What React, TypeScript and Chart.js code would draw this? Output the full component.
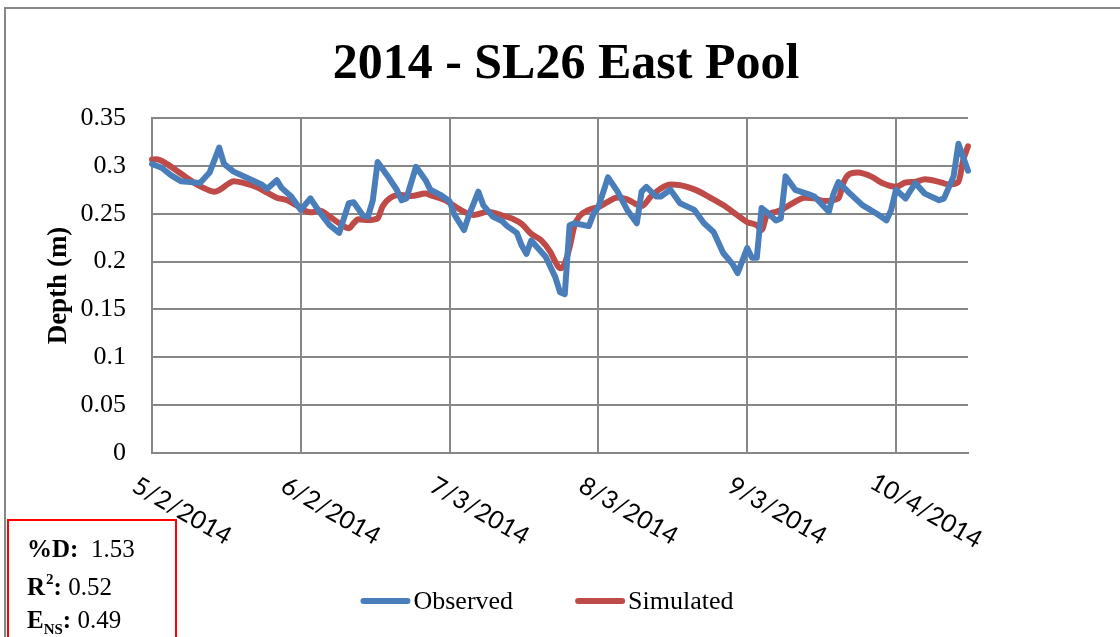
import { useEffect, useRef } from "react";
import { Chart, registerables } from "chart.js";

Chart.register(...registerables);

// ---------- data ----------
const START_DATE = [2014, 4, 2]; // 5/2/2014 (month is 0-based)
const TITLE = "2014 - SL26 East Pool";
const Y_TITLE = "Depth (m)";
const SERIES_NAMES = ["Observed", "Simulated"];
const SERIES_COLORS = ["#4A7EBB", "#BE4B48"];

// days after 5/2/2014
const OBS_DAYS = [
  0, 2, 4, 6, 8, 10, 12, 14, 15, 17, 20, 23, 24, 26, 27, 29, 31, 33, 35, 37, 39,
  41, 42, 44, 45, 46, 47, 49, 51, 52, 53, 55, 57, 58, 60, 62, 63, 65, 66, 68, 69,
  71, 73, 74, 76, 77, 78, 79, 82, 84, 85, 86, 87, 88, 91, 92, 93, 95, 97, 99, 101,
  102, 103, 105, 106, 108, 110, 113, 115, 117, 119, 121, 122, 124, 125, 126, 127,
  128, 130, 131, 132, 134, 137, 138, 141, 142, 143, 145, 148, 151, 153, 154, 155,
  157, 159, 161, 164, 165, 167, 168, 170,
];
const OBS_VALUES = [
  0.302, 0.298, 0.29, 0.284, 0.283, 0.282, 0.293, 0.319, 0.302, 0.294, 0.287,
  0.28, 0.276, 0.285, 0.277, 0.268, 0.254, 0.266, 0.251, 0.238, 0.23, 0.261,
  0.262, 0.248, 0.247, 0.264, 0.304, 0.29, 0.275, 0.264, 0.266, 0.299, 0.285,
  0.275, 0.27, 0.263, 0.249, 0.233, 0.248, 0.273, 0.259, 0.247, 0.242, 0.237,
  0.23, 0.217, 0.208, 0.222, 0.205, 0.184, 0.168, 0.166, 0.238, 0.24, 0.237,
  0.25, 0.257, 0.288, 0.273, 0.254, 0.24, 0.273, 0.278, 0.268, 0.268, 0.275,
  0.261, 0.254, 0.24, 0.231, 0.209, 0.197, 0.188, 0.214, 0.204, 0.204, 0.256,
  0.252, 0.243, 0.245, 0.289, 0.275, 0.27, 0.268, 0.252, 0.271, 0.283, 0.273,
  0.259, 0.25, 0.243, 0.254, 0.275, 0.266, 0.282, 0.271, 0.264, 0.266, 0.289,
  0.323, 0.295,
];

const SIM_DAYS = [
  0, 1, 3, 5, 7, 9, 11, 13, 14, 16, 17, 19, 22, 24, 26, 28, 30, 33, 35, 37, 39,
  41, 42, 43, 45, 47, 48, 50, 52, 54, 57, 58, 61, 63, 65, 67, 70, 73, 75, 77, 79,
  81, 83, 84, 85, 86, 87, 88, 89, 91, 93, 95, 97, 99, 102, 104, 106, 108, 110,
  113, 116, 119, 122, 124, 126, 127, 128, 130, 131, 134, 136, 138, 140, 143, 144,
  145, 147, 150, 152, 155, 157, 159, 161, 164, 166, 168, 169, 170,
];
const SIM_VALUES = [
  0.3066, 0.307, 0.3024, 0.2955, 0.2885, 0.2816, 0.2764, 0.273, 0.2747, 0.2816,
  0.284, 0.2823, 0.2774, 0.272, 0.2667, 0.2643, 0.259, 0.2514, 0.253, 0.247,
  0.24, 0.2348, 0.24, 0.2441, 0.2434, 0.245, 0.2573, 0.2677, 0.2695, 0.2684,
  0.2712, 0.2695, 0.2643, 0.258, 0.252, 0.2486, 0.252, 0.248, 0.245, 0.2393,
  0.2289, 0.2226, 0.21, 0.2, 0.193, 0.198, 0.215, 0.237, 0.247, 0.254, 0.257,
  0.2625, 0.267, 0.265, 0.258, 0.2684, 0.2764, 0.2806, 0.2799, 0.2754, 0.2677,
  0.259, 0.2483, 0.2413, 0.2379, 0.233, 0.2469, 0.252, 0.2538, 0.2625, 0.2667,
  0.266, 0.2632, 0.266, 0.2816, 0.2903, 0.293, 0.2885, 0.2823, 0.2781, 0.2826,
  0.2833, 0.286, 0.2833, 0.2806, 0.2833, 0.306, 0.3205,
];

const Y_TICK_LABELS = ["0", "0.05", "0.1", "0.15", "0.2", "0.25", "0.3", "0.35"];
const X_TICK_DAYS = [0, 31, 62, 93, 124, 155];
const X_MAX_DAY = 170;

const STAT_VALUES = ["1.53", "0.52", "0.49"];

// ---------- helpers ----------
const GRID = "#878787";
const SERIF = "'Liberation Serif', 'Times New Roman', serif";

function dayLabel(d: number): string {
  const dt = new Date(START_DATE[0], START_DATE[1], START_DATE[2] + d);
  return `${dt.getMonth() + 1}/${dt.getDate()}/${dt.getFullYear()}`;
}

const decorPlugin = {
  id: "decor",
  beforeDraw(chart: any) {
    const { ctx, width, height } = chart;
    ctx.save();
    ctx.fillStyle = "#ffffff";
    ctx.fillRect(0, 0, width, height);
    ctx.strokeStyle = GRID;
    ctx.lineWidth = 2;
    ctx.beginPath();
    ctx.moveTo(5, height);
    ctx.lineTo(5, 8);
    ctx.lineTo(width, 8);
    ctx.stroke();
    ctx.restore();
  },
  afterDraw(chart: any) {
    const { ctx, chartArea } = chart;
    const xs = chart.scales.x;
    ctx.save();

    // title
    ctx.fillStyle = "#000";
    ctx.font = `bold 50px ${SERIF}`;
    ctx.textAlign = "center";
    ctx.textBaseline = "alphabetic";
    ctx.fillText(TITLE, 566, 78);

    // y title
    ctx.save();
    ctx.translate(66, (chartArea.top + chartArea.bottom) / 2);
    ctx.rotate(-Math.PI / 2);
    ctx.font = `bold 27px ${SERIF}`;
    ctx.textAlign = "center";
    ctx.textBaseline = "alphabetic";
    ctx.fillText(Y_TITLE, 0, 0);
    ctx.restore();

    // x tick labels (rotated clockwise)
    ctx.font = "25px Lato, 'Open Sans', sans-serif";
    ctx.textAlign = "center";
    ctx.textBaseline = "middle";
    for (const t of xs.ticks) {
      const px = xs.getPixelForValue(t.value);
      ctx.save();
      ctx.translate(px + 30, chartArea.bottom + 58);
      ctx.rotate(Math.PI / 6);
      ctx.fillText(dayLabel(t.value), 0, 0);
      ctx.restore();
    }

    // legend
    ctx.font = `26px ${SERIF}`;
    ctx.textAlign = "left";
    ctx.textBaseline = "middle";
    const lineLen = 50;
    const textGap = 3;
    const itemGap = 62;
    const widths = SERIES_NAMES.map((n) => lineLen + textGap + ctx.measureText(n).width);
    const total = widths.reduce((a, b) => a + b, 0) + itemGap * (widths.length - 1);
    let lx = 547 - total / 2;
    const ly = 601;
    SERIES_NAMES.forEach((name, i) => {
      ctx.strokeStyle = SERIES_COLORS[i];
      ctx.lineWidth = 6;
      ctx.lineCap = "round";
      ctx.beginPath();
      ctx.moveTo(lx + 3, ly);
      ctx.lineTo(lx + lineLen - 3, ly);
      ctx.stroke();
      ctx.fillStyle = "#000";
      ctx.fillText(name, lx + lineLen + textGap, ly + 1);
      lx += widths[i] + itemGap;
    });

    // stats box
    ctx.strokeStyle = "#FF0000";
    ctx.lineWidth = 2;
    ctx.strokeRect(8, 520, 168, 140);
    ctx.fillStyle = "#000";
    ctx.textBaseline = "alphabetic";
    const bold = `bold 25px ${SERIF}`;
    const norm = `25px ${SERIF}`;
    const small = `bold 15px ${SERIF}`;
    let x = 27;
    // %D
    ctx.font = bold;
    ctx.fillText("%D:", x, 557);
    x += ctx.measureText("%D:").width;
    ctx.font = norm;
    ctx.fillText("  " + STAT_VALUES[0], x, 557);
    // R^2
    x = 27;
    ctx.font = bold;
    ctx.fillText("R", x, 595);
    x += ctx.measureText("R").width;
    ctx.font = small;
    ctx.fillText("2", x + 1, 584);
    x += ctx.measureText("2").width + 1;
    ctx.font = bold;
    ctx.fillText(":", x, 595);
    x += ctx.measureText(":").width;
    ctx.font = norm;
    ctx.fillText(" " + STAT_VALUES[1], x, 595);
    // E_NS
    x = 27;
    ctx.font = bold;
    ctx.fillText("E", x, 628);
    x += ctx.measureText("E").width;
    ctx.font = small;
    ctx.fillText("NS", x, 634);
    x += ctx.measureText("NS").width;
    ctx.font = bold;
    ctx.fillText(":", x, 628);
    x += ctx.measureText(":").width;
    ctx.font = norm;
    ctx.fillText(" " + STAT_VALUES[2], x, 628);

    ctx.restore();
  },
};

export default function App() {
  const ref = useRef<HTMLCanvasElement | null>(null);

  useEffect(() => {
    if (!ref.current) return;
    const chart = new Chart(ref.current, {
      type: "line",
      data: {
        datasets: [
          {
            label: SERIES_NAMES[0],
            data: OBS_DAYS.map((d, i) => ({ x: d, y: OBS_VALUES[i] })),
            borderColor: SERIES_COLORS[0],
            backgroundColor: SERIES_COLORS[0],
            borderWidth: 6,
            borderCapStyle: "round",
            borderJoinStyle: "round",
            pointRadius: 0,
            tension: 0,
            clip: false,
          },
          {
            label: SERIES_NAMES[1],
            data: SIM_DAYS.map((d, i) => ({ x: d, y: SIM_VALUES[i] })),
            borderColor: SERIES_COLORS[1],
            backgroundColor: SERIES_COLORS[1],
            borderWidth: 6,
            borderCapStyle: "round",
            borderJoinStyle: "round",
            pointRadius: 0,
            cubicInterpolationMode: "monotone",
            clip: false,
          },
        ],
      },
      options: {
        animation: false,
        responsive: true,
        maintainAspectRatio: false,
        layout: { padding: { left: 0, top: 118, right: 152, bottom: 184 } },
        plugins: {
          legend: { display: false },
          title: { display: false },
          tooltip: { enabled: false },
        },
        scales: {
          x: {
            type: "linear",
            min: 0,
            max: X_MAX_DAY,
            ticks: { display: false },
            grid: { color: GRID, lineWidth: 2, drawTicks: false },
            border: { display: true, color: GRID, width: 2 },
            afterBuildTicks: (s: any) => {
              s.ticks = X_TICK_DAYS.map((v) => ({ value: v }));
            },
            afterFit: (s: any) => {
              s.height = 0;
            },
          },
          y: {
            type: "linear",
            min: 0,
            max: 0.35,
            ticks: {
              padding: 26,
              color: "#000",
              font: { family: SERIF, size: 26 },
              callback: (v: any) => String(v),
            },
            grid: { color: GRID, lineWidth: 2, drawTicks: false },
            border: { display: true, color: GRID, width: 2 },
            afterBuildTicks: (s: any) => {
              s.ticks = Y_TICK_LABELS.map((l) => ({ value: parseFloat(l) }));
            },
            afterFit: (s: any) => {
              s.width = 152;
            },
          },
        },
      },
      plugins: [decorPlugin],
    });
    return () => chart.destroy();
  }, []);

  return (
    <div style={{ position: "fixed", left: 0, top: 0, width: 1120, height: 637, background: "#fff" }}>
      <canvas ref={ref} />
    </div>
  );
}
